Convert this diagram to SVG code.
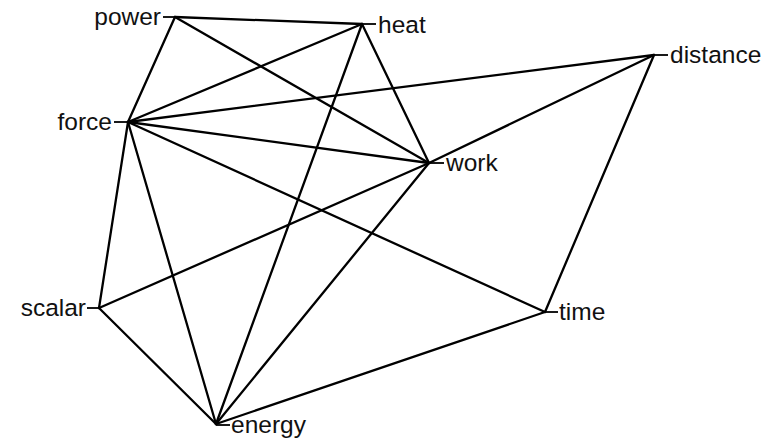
<svg xmlns="http://www.w3.org/2000/svg" width="777" height="444" viewBox="0 0 777 444">
<style>
.e{stroke:#000;stroke-width:2.3;fill:none;stroke-linecap:round}
.t{stroke:#000;stroke-width:1.8}
text{font-family:"Liberation Sans",Arial,sans-serif;font-size:24.5px;fill:#111}
.l{text-anchor:end}
</style>
<rect width="777" height="444" fill="#fff"/>
<g id="connectors">
<line class="e" x1="175" y1="17" x2="362" y2="24"/>
<line class="e" x1="175" y1="17" x2="128" y2="122"/>
<line class="e" x1="175" y1="17" x2="429" y2="163"/>
<line class="e" x1="362" y1="24" x2="128" y2="122"/>
<line class="e" x1="362" y1="24" x2="429" y2="163"/>
<line class="e" x1="362" y1="24" x2="216" y2="424"/>
<line class="e" x1="654" y1="55" x2="128" y2="122"/>
<line class="e" x1="654" y1="55" x2="429" y2="163"/>
<line class="e" x1="654" y1="55" x2="545" y2="312"/>
<line class="e" x1="128" y1="122" x2="429" y2="163"/>
<line class="e" x1="128" y1="122" x2="545" y2="312"/>
<line class="e" x1="128" y1="122" x2="99" y2="308"/>
<line class="e" x1="128" y1="122" x2="216" y2="424"/>
<line class="e" x1="429" y1="163" x2="99" y2="308"/>
<line class="e" x1="429" y1="163" x2="216" y2="424"/>
<line class="e" x1="99" y1="308" x2="216" y2="424"/>
<line class="e" x1="216" y1="424" x2="545" y2="312"/>
</g>
<g id="power"><line class="t" x1="163" y1="17" x2="175" y2="17"/><text class="l" x="161" y="25">power</text></g>
<g id="heat"><line class="t" x1="362" y1="24" x2="376" y2="24"/><text x="378" y="33">heat</text></g>
<g id="distance"><line class="t" x1="654" y1="55" x2="668" y2="55"/><text x="670" y="63">distance</text></g>
<g id="force"><line class="t" x1="114" y1="122" x2="128" y2="122"/><text class="l" x="112" y="130">force</text></g>
<g id="work"><line class="t" x1="429" y1="163" x2="444" y2="163"/><text x="446" y="171">work</text></g>
<g id="scalar"><line class="t" x1="87" y1="308" x2="99" y2="308"/><text class="l" x="86" y="316">scalar</text></g>
<g id="time"><line class="t" x1="545" y1="312" x2="558" y2="312"/><text x="559" y="320">time</text></g>
<g id="energy"><line class="t" x1="216" y1="425" x2="230" y2="425"/><text x="231" y="433">energy</text></g>
</svg>
